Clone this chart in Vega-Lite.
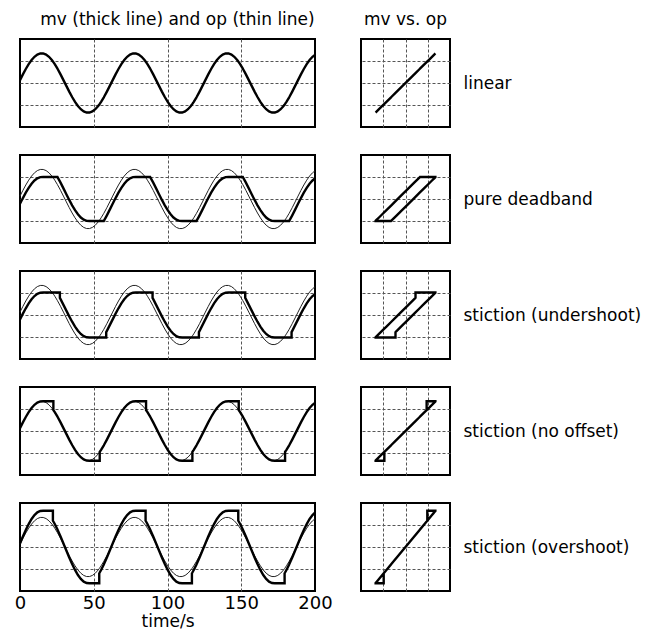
{
  "$schema": "https://vega.github.io/schema/vega-lite/v6.json",
  "padding": {"left": 13, "top": 10, "right": 5, "bottom": 4},
  "config": {
    "font": "DejaVu Sans",
    "view": {"stroke": "black", "strokeWidth": 2},
    "axis": {
      "grid": true, "gridColor": "#555", "gridDash": [3, 2], "gridWidth": 1,
      "domain": false, "ticks": false, "labels": false,
      "labelFont": "DejaVu Sans", "labelColor": "black",
      "titleFont": "DejaVu Sans", "titleFontWeight": "normal", "titleColor": "black"
    },
    "title": {"font": "DejaVu Sans", "fontSize": 17, "fontWeight": "normal", "color": "black", "anchor": "middle", "offset": 10}
  },
  "data": {"values": [
    {"i":0,"t":0,"op":0.132,"db":-0.218,"us":-0.198,"no":0.132,"os":0.161},
    {"i":1,"t":1.963,"op":0.392,"db":0.042,"us":0.062,"no":0.392,"os":0.478},
    {"i":2,"t":3.927,"op":0.636,"db":0.286,"us":0.306,"no":0.636,"os":0.776},
    {"i":3,"t":5.89,"op":0.856,"db":0.506,"us":0.526,"no":0.856,"os":1.044},
    {"i":4,"t":7.854,"op":1.044,"db":0.694,"us":0.714,"no":1.044,"os":1.274},
    {"i":5,"t":9.817,"op":1.191,"db":0.841,"us":0.861,"no":1.191,"os":1.453},
    {"i":6,"t":11.781,"op":1.292,"db":0.942,"us":0.962,"no":1.292,"os":1.576},
    {"i":7,"t":13.744,"op":1.343,"db":0.993,"us":1.013,"no":1.343,"os":1.638},
    {"i":8,"t":15.708,"op":1.343,"db":1,"us":1.02,"no":1.35,"os":1.647},
    {"i":9,"t":17.671,"op":1.292,"db":1,"us":1.02,"no":1.35,"os":1.647},
    {"i":10,"t":19.635,"op":1.191,"db":1,"us":1.02,"no":1.35,"os":1.647},
    {"i":11,"t":21.598,"op":1.044,"db":1,"us":1.02,"no":1.35,"os":1.647},
    {"i":12,"t":22.31,"op":0.98,"db":1,"us":1.02,"no":1.35,"os":1.647},
    {"i":13,"t":22.31,"op":0.98,"db":1,"us":1.02,"no":1.35,"os":1.196},
    {"i":14,"t":22.628,"op":0.95,"db":1,"us":1.02,"no":1.35,"os":1.159},
    {"i":15,"t":22.628,"op":0.95,"db":1,"us":1.02,"no":0.95,"os":1.159},
    {"i":16,"t":23.562,"op":0.856,"db":1,"us":1.02,"no":0.856,"os":1.044},
    {"i":17,"t":25.41,"op":0.65,"db":1,"us":1.02,"no":0.65,"os":0.793},
    {"i":18,"t":25.525,"op":0.636,"db":0.986,"us":1.02,"no":0.636,"os":0.776},
    {"i":19,"t":27.036,"op":0.45,"db":0.8,"us":1.02,"no":0.45,"os":0.549},
    {"i":20,"t":27.036,"op":0.45,"db":0.8,"us":0.78,"no":0.45,"os":0.549},
    {"i":21,"t":27.489,"op":0.392,"db":0.742,"us":0.722,"no":0.392,"os":0.478},
    {"i":22,"t":29.452,"op":0.132,"db":0.482,"us":0.462,"no":0.132,"os":0.161},
    {"i":23,"t":31.416,"op":-0.132,"db":0.218,"us":0.198,"no":-0.132,"os":-0.161},
    {"i":24,"t":33.379,"op":-0.392,"db":-0.042,"us":-0.062,"no":-0.392,"os":-0.478},
    {"i":25,"t":35.343,"op":-0.636,"db":-0.286,"us":-0.306,"no":-0.636,"os":-0.776},
    {"i":26,"t":37.306,"op":-0.856,"db":-0.506,"us":-0.526,"no":-0.856,"os":-1.044},
    {"i":27,"t":39.27,"op":-1.044,"db":-0.694,"us":-0.714,"no":-1.044,"os":-1.274},
    {"i":28,"t":41.233,"op":-1.191,"db":-0.841,"us":-0.861,"no":-1.191,"os":-1.453},
    {"i":29,"t":43.197,"op":-1.292,"db":-0.942,"us":-0.962,"no":-1.292,"os":-1.576},
    {"i":30,"t":45.16,"op":-1.343,"db":-0.993,"us":-1.013,"no":-1.343,"os":-1.638},
    {"i":31,"t":47.124,"op":-1.343,"db":-1,"us":-1.02,"no":-1.35,"os":-1.647},
    {"i":32,"t":49.087,"op":-1.292,"db":-1,"us":-1.02,"no":-1.35,"os":-1.647},
    {"i":33,"t":51.051,"op":-1.191,"db":-1,"us":-1.02,"no":-1.35,"os":-1.647},
    {"i":34,"t":53.014,"op":-1.044,"db":-1,"us":-1.02,"no":-1.35,"os":-1.647},
    {"i":35,"t":53.726,"op":-0.98,"db":-1,"us":-1.02,"no":-1.35,"os":-1.647},
    {"i":36,"t":53.726,"op":-0.98,"db":-1,"us":-1.02,"no":-1.35,"os":-1.196},
    {"i":37,"t":54.044,"op":-0.95,"db":-1,"us":-1.02,"no":-1.35,"os":-1.159},
    {"i":38,"t":54.044,"op":-0.95,"db":-1,"us":-1.02,"no":-0.95,"os":-1.159},
    {"i":39,"t":54.978,"op":-0.856,"db":-1,"us":-1.02,"no":-0.856,"os":-1.044},
    {"i":40,"t":56.826,"op":-0.65,"db":-1,"us":-1.02,"no":-0.65,"os":-0.793},
    {"i":41,"t":56.941,"op":-0.636,"db":-0.986,"us":-1.02,"no":-0.636,"os":-0.776},
    {"i":42,"t":58.452,"op":-0.45,"db":-0.8,"us":-1.02,"no":-0.45,"os":-0.549},
    {"i":43,"t":58.452,"op":-0.45,"db":-0.8,"us":-0.78,"no":-0.45,"os":-0.549},
    {"i":44,"t":58.905,"op":-0.392,"db":-0.742,"us":-0.722,"no":-0.392,"os":-0.478},
    {"i":45,"t":60.868,"op":-0.132,"db":-0.482,"us":-0.462,"no":-0.132,"os":-0.161},
    {"i":46,"t":62.832,"op":0.132,"db":-0.218,"us":-0.198,"no":0.132,"os":0.161},
    {"i":47,"t":64.795,"op":0.392,"db":0.042,"us":0.062,"no":0.392,"os":0.478},
    {"i":48,"t":66.759,"op":0.636,"db":0.286,"us":0.306,"no":0.636,"os":0.776},
    {"i":49,"t":68.722,"op":0.856,"db":0.506,"us":0.526,"no":0.856,"os":1.044},
    {"i":50,"t":70.686,"op":1.044,"db":0.694,"us":0.714,"no":1.044,"os":1.274},
    {"i":51,"t":72.649,"op":1.191,"db":0.841,"us":0.861,"no":1.191,"os":1.453},
    {"i":52,"t":74.613,"op":1.292,"db":0.942,"us":0.962,"no":1.292,"os":1.576},
    {"i":53,"t":76.576,"op":1.343,"db":0.993,"us":1.013,"no":1.343,"os":1.638},
    {"i":54,"t":78.54,"op":1.343,"db":1,"us":1.02,"no":1.35,"os":1.647},
    {"i":55,"t":80.503,"op":1.292,"db":1,"us":1.02,"no":1.35,"os":1.647},
    {"i":56,"t":82.467,"op":1.191,"db":1,"us":1.02,"no":1.35,"os":1.647},
    {"i":57,"t":84.43,"op":1.044,"db":1,"us":1.02,"no":1.35,"os":1.647},
    {"i":58,"t":85.142,"op":0.98,"db":1,"us":1.02,"no":1.35,"os":1.647},
    {"i":59,"t":85.142,"op":0.98,"db":1,"us":1.02,"no":1.35,"os":1.196},
    {"i":60,"t":85.46,"op":0.95,"db":1,"us":1.02,"no":1.35,"os":1.159},
    {"i":61,"t":85.46,"op":0.95,"db":1,"us":1.02,"no":0.95,"os":1.159},
    {"i":62,"t":86.394,"op":0.856,"db":1,"us":1.02,"no":0.856,"os":1.044},
    {"i":63,"t":88.242,"op":0.65,"db":1,"us":1.02,"no":0.65,"os":0.793},
    {"i":64,"t":88.357,"op":0.636,"db":0.986,"us":1.02,"no":0.636,"os":0.776},
    {"i":65,"t":89.868,"op":0.45,"db":0.8,"us":1.02,"no":0.45,"os":0.549},
    {"i":66,"t":89.868,"op":0.45,"db":0.8,"us":0.78,"no":0.45,"os":0.549},
    {"i":67,"t":90.321,"op":0.392,"db":0.742,"us":0.722,"no":0.392,"os":0.478},
    {"i":68,"t":92.284,"op":0.132,"db":0.482,"us":0.462,"no":0.132,"os":0.161},
    {"i":69,"t":94.248,"op":-0.132,"db":0.218,"us":0.198,"no":-0.132,"os":-0.161},
    {"i":70,"t":96.211,"op":-0.392,"db":-0.042,"us":-0.062,"no":-0.392,"os":-0.478},
    {"i":71,"t":98.175,"op":-0.636,"db":-0.286,"us":-0.306,"no":-0.636,"os":-0.776},
    {"i":72,"t":100.138,"op":-0.856,"db":-0.506,"us":-0.526,"no":-0.856,"os":-1.044},
    {"i":73,"t":102.102,"op":-1.044,"db":-0.694,"us":-0.714,"no":-1.044,"os":-1.274},
    {"i":74,"t":104.065,"op":-1.191,"db":-0.841,"us":-0.861,"no":-1.191,"os":-1.453},
    {"i":75,"t":106.029,"op":-1.292,"db":-0.942,"us":-0.962,"no":-1.292,"os":-1.576},
    {"i":76,"t":107.992,"op":-1.343,"db":-0.993,"us":-1.013,"no":-1.343,"os":-1.638},
    {"i":77,"t":109.956,"op":-1.343,"db":-1,"us":-1.02,"no":-1.35,"os":-1.647},
    {"i":78,"t":111.919,"op":-1.292,"db":-1,"us":-1.02,"no":-1.35,"os":-1.647},
    {"i":79,"t":113.883,"op":-1.191,"db":-1,"us":-1.02,"no":-1.35,"os":-1.647},
    {"i":80,"t":115.846,"op":-1.044,"db":-1,"us":-1.02,"no":-1.35,"os":-1.647},
    {"i":81,"t":116.558,"op":-0.98,"db":-1,"us":-1.02,"no":-1.35,"os":-1.647},
    {"i":82,"t":116.558,"op":-0.98,"db":-1,"us":-1.02,"no":-1.35,"os":-1.196},
    {"i":83,"t":116.876,"op":-0.95,"db":-1,"us":-1.02,"no":-1.35,"os":-1.159},
    {"i":84,"t":116.876,"op":-0.95,"db":-1,"us":-1.02,"no":-0.95,"os":-1.159},
    {"i":85,"t":117.81,"op":-0.856,"db":-1,"us":-1.02,"no":-0.856,"os":-1.044},
    {"i":86,"t":119.658,"op":-0.65,"db":-1,"us":-1.02,"no":-0.65,"os":-0.793},
    {"i":87,"t":119.773,"op":-0.636,"db":-0.986,"us":-1.02,"no":-0.636,"os":-0.776},
    {"i":88,"t":121.284,"op":-0.45,"db":-0.8,"us":-1.02,"no":-0.45,"os":-0.549},
    {"i":89,"t":121.284,"op":-0.45,"db":-0.8,"us":-0.78,"no":-0.45,"os":-0.549},
    {"i":90,"t":121.737,"op":-0.392,"db":-0.742,"us":-0.722,"no":-0.392,"os":-0.478},
    {"i":91,"t":123.7,"op":-0.132,"db":-0.482,"us":-0.462,"no":-0.132,"os":-0.161},
    {"i":92,"t":125.664,"op":0.132,"db":-0.218,"us":-0.198,"no":0.132,"os":0.161},
    {"i":93,"t":127.627,"op":0.392,"db":0.042,"us":0.062,"no":0.392,"os":0.478},
    {"i":94,"t":129.591,"op":0.636,"db":0.286,"us":0.306,"no":0.636,"os":0.776},
    {"i":95,"t":131.554,"op":0.856,"db":0.506,"us":0.526,"no":0.856,"os":1.044},
    {"i":96,"t":133.518,"op":1.044,"db":0.694,"us":0.714,"no":1.044,"os":1.274},
    {"i":97,"t":135.481,"op":1.191,"db":0.841,"us":0.861,"no":1.191,"os":1.453},
    {"i":98,"t":137.445,"op":1.292,"db":0.942,"us":0.962,"no":1.292,"os":1.576},
    {"i":99,"t":139.408,"op":1.343,"db":0.993,"us":1.013,"no":1.343,"os":1.638},
    {"i":100,"t":141.372,"op":1.343,"db":1,"us":1.02,"no":1.35,"os":1.647},
    {"i":101,"t":143.335,"op":1.292,"db":1,"us":1.02,"no":1.35,"os":1.647},
    {"i":102,"t":145.299,"op":1.191,"db":1,"us":1.02,"no":1.35,"os":1.647},
    {"i":103,"t":147.262,"op":1.044,"db":1,"us":1.02,"no":1.35,"os":1.647},
    {"i":104,"t":147.974,"op":0.98,"db":1,"us":1.02,"no":1.35,"os":1.647},
    {"i":105,"t":147.974,"op":0.98,"db":1,"us":1.02,"no":1.35,"os":1.196},
    {"i":106,"t":148.292,"op":0.95,"db":1,"us":1.02,"no":1.35,"os":1.159},
    {"i":107,"t":148.292,"op":0.95,"db":1,"us":1.02,"no":0.95,"os":1.159},
    {"i":108,"t":149.226,"op":0.856,"db":1,"us":1.02,"no":0.856,"os":1.044},
    {"i":109,"t":151.074,"op":0.65,"db":1,"us":1.02,"no":0.65,"os":0.793},
    {"i":110,"t":151.189,"op":0.636,"db":0.986,"us":1.02,"no":0.636,"os":0.776},
    {"i":111,"t":152.7,"op":0.45,"db":0.8,"us":1.02,"no":0.45,"os":0.549},
    {"i":112,"t":152.7,"op":0.45,"db":0.8,"us":0.78,"no":0.45,"os":0.549},
    {"i":113,"t":153.153,"op":0.392,"db":0.742,"us":0.722,"no":0.392,"os":0.478},
    {"i":114,"t":155.116,"op":0.132,"db":0.482,"us":0.462,"no":0.132,"os":0.161},
    {"i":115,"t":157.08,"op":-0.132,"db":0.218,"us":0.198,"no":-0.132,"os":-0.161},
    {"i":116,"t":159.043,"op":-0.392,"db":-0.042,"us":-0.062,"no":-0.392,"os":-0.478},
    {"i":117,"t":161.007,"op":-0.636,"db":-0.286,"us":-0.306,"no":-0.636,"os":-0.776},
    {"i":118,"t":162.97,"op":-0.856,"db":-0.506,"us":-0.526,"no":-0.856,"os":-1.044},
    {"i":119,"t":164.934,"op":-1.044,"db":-0.694,"us":-0.714,"no":-1.044,"os":-1.274},
    {"i":120,"t":166.897,"op":-1.191,"db":-0.841,"us":-0.861,"no":-1.191,"os":-1.453},
    {"i":121,"t":168.861,"op":-1.292,"db":-0.942,"us":-0.962,"no":-1.292,"os":-1.576},
    {"i":122,"t":170.824,"op":-1.343,"db":-0.993,"us":-1.013,"no":-1.343,"os":-1.638},
    {"i":123,"t":172.788,"op":-1.343,"db":-1,"us":-1.02,"no":-1.35,"os":-1.647},
    {"i":124,"t":174.751,"op":-1.292,"db":-1,"us":-1.02,"no":-1.35,"os":-1.647},
    {"i":125,"t":176.715,"op":-1.191,"db":-1,"us":-1.02,"no":-1.35,"os":-1.647},
    {"i":126,"t":178.678,"op":-1.044,"db":-1,"us":-1.02,"no":-1.35,"os":-1.647},
    {"i":127,"t":179.39,"op":-0.98,"db":-1,"us":-1.02,"no":-1.35,"os":-1.647},
    {"i":128,"t":179.39,"op":-0.98,"db":-1,"us":-1.02,"no":-1.35,"os":-1.196},
    {"i":129,"t":179.708,"op":-0.95,"db":-1,"us":-1.02,"no":-1.35,"os":-1.159},
    {"i":130,"t":179.708,"op":-0.95,"db":-1,"us":-1.02,"no":-0.95,"os":-1.159},
    {"i":131,"t":180.642,"op":-0.856,"db":-1,"us":-1.02,"no":-0.856,"os":-1.044},
    {"i":132,"t":182.49,"op":-0.65,"db":-1,"us":-1.02,"no":-0.65,"os":-0.793},
    {"i":133,"t":182.605,"op":-0.636,"db":-0.986,"us":-1.02,"no":-0.636,"os":-0.776},
    {"i":134,"t":184.116,"op":-0.45,"db":-0.8,"us":-1.02,"no":-0.45,"os":-0.549},
    {"i":135,"t":184.116,"op":-0.45,"db":-0.8,"us":-0.78,"no":-0.45,"os":-0.549},
    {"i":136,"t":184.569,"op":-0.392,"db":-0.742,"us":-0.722,"no":-0.392,"os":-0.478},
    {"i":137,"t":186.532,"op":-0.132,"db":-0.482,"us":-0.462,"no":-0.132,"os":-0.161},
    {"i":138,"t":188.496,"op":0.132,"db":-0.218,"us":-0.198,"no":0.132,"os":0.161},
    {"i":139,"t":190.459,"op":0.392,"db":0.042,"us":0.062,"no":0.392,"os":0.478},
    {"i":140,"t":192.423,"op":0.636,"db":0.286,"us":0.306,"no":0.636,"os":0.776},
    {"i":141,"t":194.386,"op":0.856,"db":0.506,"us":0.526,"no":0.856,"os":1.044},
    {"i":142,"t":196.35,"op":1.044,"db":0.694,"us":0.714,"no":1.044,"os":1.274},
    {"i":143,"t":198.313,"op":1.191,"db":0.841,"us":0.861,"no":1.191,"os":1.453},
    {"i":144,"t":200,"op":1.28,"db":0.93,"us":0.95,"no":1.28,"os":1.562}
  ]},
  "columns": 2,
  "spacing": {"row": 28, "column": 46},
  "bounds": "flush",
  "concat": [
    {
      "width": 295, "height": 88,
      "title": {"text": "mv (thick line) and op (thin line)", "dx": 10},
      "layer": [
        {"mark": {"type": "line", "stroke": "#222", "strokeWidth": 1},
         "encoding": {
           "x": {"field": "t", "type": "quantitative", "scale": {"domain": [0, 200]}, "axis": {"values": [50, 100, 150], "title": null}},
           "y": {"field": "op", "type": "quantitative", "scale": {"domain": [-2, 2]}, "axis": {"values": [-1, 0, 1], "title": null}},
           "order": {"field": "i", "type": "quantitative"}}},
        {"mark": {"type": "line", "stroke": "black", "strokeWidth": 2.4},
         "encoding": {
           "x": {"field": "t", "type": "quantitative"},
           "y": {"field": "op", "type": "quantitative"},
           "order": {"field": "i", "type": "quantitative"}}}
      ]
    },
    {
      "width": 89, "height": 88,
      "title": {"text": "mv vs. op"},
      "mark": {"type": "line", "stroke": "black", "strokeWidth": 2.4},
      "encoding": {
        "x": {"field": "op", "type": "quantitative", "scale": {"domain": [-2, 2]}, "axis": {"values": [-1, 0, 1], "title": null}},
        "y": {"field": "op", "type": "quantitative", "scale": {"domain": [-2, 2]},
              "axis": {"values": [-1, 0, 1], "orient": "right", "title": "linear", "titleAngle": 0, "titleAlign": "left", "titleBaseline": "middle", "titlePadding": 13, "titleFontSize": 17}},
        "order": {"field": "i", "type": "quantitative"}}
    },
    {
      "width": 295, "height": 88,
      "layer": [
        {"mark": {"type": "line", "stroke": "#222", "strokeWidth": 1},
         "encoding": {
           "x": {"field": "t", "type": "quantitative", "scale": {"domain": [0, 200]}, "axis": {"values": [50, 100, 150], "title": null}},
           "y": {"field": "op", "type": "quantitative", "scale": {"domain": [-2, 2]}, "axis": {"values": [-1, 0, 1], "title": null}},
           "order": {"field": "i", "type": "quantitative"}}},
        {"mark": {"type": "line", "stroke": "black", "strokeWidth": 2.4},
         "encoding": {
           "x": {"field": "t", "type": "quantitative"},
           "y": {"field": "db", "type": "quantitative"},
           "order": {"field": "i", "type": "quantitative"}}}
      ]
    },
    {
      "width": 89, "height": 88,
      "mark": {"type": "line", "stroke": "black", "strokeWidth": 2.4},
      "encoding": {
        "x": {"field": "op", "type": "quantitative", "scale": {"domain": [-2, 2]}, "axis": {"values": [-1, 0, 1], "title": null}},
        "y": {"field": "db", "type": "quantitative", "scale": {"domain": [-2, 2]},
              "axis": {"values": [-1, 0, 1], "orient": "right", "title": "pure deadband", "titleAngle": 0, "titleAlign": "left", "titleBaseline": "middle", "titlePadding": 13, "titleFontSize": 17}},
        "order": {"field": "i", "type": "quantitative"}}
    },
    {
      "width": 295, "height": 88,
      "layer": [
        {"mark": {"type": "line", "stroke": "#222", "strokeWidth": 1},
         "encoding": {
           "x": {"field": "t", "type": "quantitative", "scale": {"domain": [0, 200]}, "axis": {"values": [50, 100, 150], "title": null}},
           "y": {"field": "op", "type": "quantitative", "scale": {"domain": [-2, 2]}, "axis": {"values": [-1, 0, 1], "title": null}},
           "order": {"field": "i", "type": "quantitative"}}},
        {"mark": {"type": "line", "stroke": "black", "strokeWidth": 2.4},
         "encoding": {
           "x": {"field": "t", "type": "quantitative"},
           "y": {"field": "us", "type": "quantitative"},
           "order": {"field": "i", "type": "quantitative"}}}
      ]
    },
    {
      "width": 89, "height": 88,
      "mark": {"type": "line", "stroke": "black", "strokeWidth": 2.4},
      "encoding": {
        "x": {"field": "op", "type": "quantitative", "scale": {"domain": [-2, 2]}, "axis": {"values": [-1, 0, 1], "title": null}},
        "y": {"field": "us", "type": "quantitative", "scale": {"domain": [-2, 2]},
              "axis": {"values": [-1, 0, 1], "orient": "right", "title": "stiction (undershoot)", "titleAngle": 0, "titleAlign": "left", "titleBaseline": "middle", "titlePadding": 13, "titleFontSize": 17}},
        "order": {"field": "i", "type": "quantitative"}}
    },
    {
      "width": 295, "height": 88,
      "layer": [
        {"mark": {"type": "line", "stroke": "#222", "strokeWidth": 1},
         "encoding": {
           "x": {"field": "t", "type": "quantitative", "scale": {"domain": [0, 200]}, "axis": {"values": [50, 100, 150], "title": null}},
           "y": {"field": "op", "type": "quantitative", "scale": {"domain": [-2, 2]}, "axis": {"values": [-1, 0, 1], "title": null}},
           "order": {"field": "i", "type": "quantitative"}}},
        {"mark": {"type": "line", "stroke": "black", "strokeWidth": 2.4},
         "encoding": {
           "x": {"field": "t", "type": "quantitative"},
           "y": {"field": "no", "type": "quantitative"},
           "order": {"field": "i", "type": "quantitative"}}}
      ]
    },
    {
      "width": 89, "height": 88,
      "mark": {"type": "line", "stroke": "black", "strokeWidth": 2.4},
      "encoding": {
        "x": {"field": "op", "type": "quantitative", "scale": {"domain": [-2, 2]}, "axis": {"values": [-1, 0, 1], "title": null}},
        "y": {"field": "no", "type": "quantitative", "scale": {"domain": [-2, 2]},
              "axis": {"values": [-1, 0, 1], "orient": "right", "title": "stiction (no offset)", "titleAngle": 0, "titleAlign": "left", "titleBaseline": "middle", "titlePadding": 13, "titleFontSize": 17}},
        "order": {"field": "i", "type": "quantitative"}}
    },
    {
      "width": 295, "height": 88,
      "layer": [
        {"mark": {"type": "line", "stroke": "#222", "strokeWidth": 1},
         "encoding": {
           "x": {"field": "t", "type": "quantitative", "scale": {"domain": [0, 200]},
                 "axis": {"values": [0, 50, 100, 150, 200], "labels": true, "labelFlush": false, "labelFontSize": 18, "labelPadding": 3,
                          "gridOpacity": {"condition": {"test": "datum.value == 0 || datum.value == 200", "value": 0}, "value": 1},
                          "title": "time/s", "titleFontSize": 17, "titlePadding": 1}},
           "y": {"field": "op", "type": "quantitative", "scale": {"domain": [-2, 2]}, "axis": {"values": [-1, 0, 1], "title": null}},
           "order": {"field": "i", "type": "quantitative"}}},
        {"mark": {"type": "line", "stroke": "black", "strokeWidth": 2.4},
         "encoding": {
           "x": {"field": "t", "type": "quantitative"},
           "y": {"field": "os", "type": "quantitative"},
           "order": {"field": "i", "type": "quantitative"}}}
      ]
    },
    {
      "width": 89, "height": 88,
      "mark": {"type": "line", "stroke": "black", "strokeWidth": 2.4},
      "encoding": {
        "x": {"field": "op", "type": "quantitative", "scale": {"domain": [-2, 2]}, "axis": {"values": [-1, 0, 1], "title": null}},
        "y": {"field": "os", "type": "quantitative", "scale": {"domain": [-2, 2]},
              "axis": {"values": [-1, 0, 1], "orient": "right", "title": "stiction (overshoot)", "titleAngle": 0, "titleAlign": "left", "titleBaseline": "middle", "titlePadding": 13, "titleFontSize": 17}},
        "order": {"field": "i", "type": "quantitative"}}
    }
  ]
}
